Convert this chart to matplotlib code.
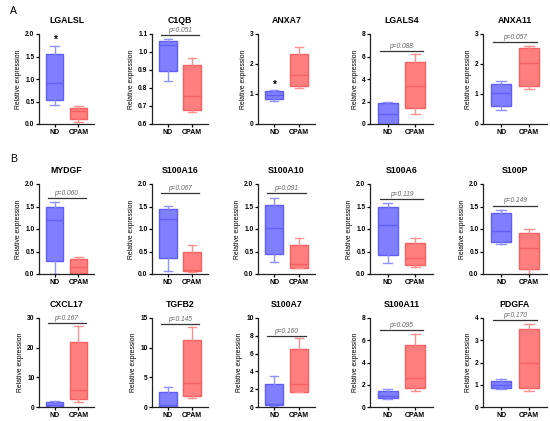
import numpy as np
import matplotlib.pyplot as plt

genes = ['LGALSL', 'C1QB', 'ANXA7', 'LGALS4', 'ANXA11',
         'MYDGF', 'S100A16', 'S100A10', 'S100A6', 'S100P',
         'CXCL17', 'TGFB2', 'S100A7', 'S100A11', 'PDGFA']
groups = ['ND', 'CPAM']

# whisker low, Q1, median, Q3, whisker high
nd = [[0.42, 0.53, 0.92, 1.56, 1.74],
      [0.84, 0.893, 1.037, 1.059, 1.074],
      [0.78, 0.85, 0.97, 1.10, 1.12],
      [0.0, 0.02, 0.93, 1.91, 1.97],
      [0.48, 0.60, 1.03, 1.32, 1.43],
      [0.0, 0.29, 1.19, 1.50, 1.60],
      [0.06, 0.35, 1.22, 1.45, 1.52],
      [0.27, 0.44, 1.03, 1.54, 1.68],
      [0.25, 0.42, 1.08, 1.49, 1.58],
      [0.67, 0.71, 0.95, 1.36, 1.43],
      [0.2, 0.4, 0.8, 1.6, 1.9],
      [0.0, 0.05, 0.3, 2.5, 3.4],
      [0.15, 0.2, 0.3, 2.6, 3.5],
      [0.72, 0.78, 0.96, 1.40, 1.64],
      [0.79, 0.84, 1.01, 1.18, 1.25]]
cpam = [[0.04, 0.12, 0.30, 0.36, 0.40],
        [0.669, 0.679, 0.753, 0.926, 0.967],
        [1.19, 1.28, 1.62, 2.34, 2.58],
        [0.87, 1.46, 3.34, 5.52, 6.2],
        [1.17, 1.27, 2.03, 2.55, 2.59],
        [0.01, 0.02, 0.15, 0.34, 0.37],
        [0.05, 0.06, 0.08, 0.50, 0.65],
        [0.13, 0.14, 0.22, 0.64, 0.79],
        [0.16, 0.19, 0.35, 0.70, 0.79],
        [0.0, 0.11, 0.57, 0.92, 0.99],
        [1.8, 2.6, 5.8, 22.0, 27.3],
        [1.5, 1.84, 3.97, 11.3, 13.4],
        [1.7, 1.72, 2.54, 6.57, 7.7],
        [1.43, 1.67, 2.57, 5.61, 6.57],
        [0.72, 0.84, 2.0, 3.49, 3.73]]

pvals = [None, 'p=0.051', None, 'p=0.088', 'p=0.057',
         'p=0.060', 'p=0.067', 'p=0.091', 'p=0.119', 'p=0.149',
         'p=0.167', 'p=0.145', 'p=0.160', 'p=0.095', 'p=0.170']
pline_y = [None, 1.095, None, 6.48, 2.72,
           1.68, 1.8, 1.8, 1.66, 1.52,
           28.3, 14.0, 7.95, 6.9, 3.9]
star_y = [1.86, None, 1.30, None, None] + [None] * 10

ylo = [0, 0.6, 0, 0, 0, 0, 0, 0, 0, 0, 0, 0, 0, 0, 0]
yhi = [2.0, 1.1, 3, 8, 3, 2.0, 2.0, 2.0, 2.0, 2.0, 30, 15, 10, 8, 4]
ystep = [0.5, 0.1, 1, 2, 1, 0.5, 0.5, 0.5, 0.5, 0.5, 10, 5, 2, 2, 1]

plt.rcParams['font.family'] = ['Liberation Sans', 'DejaVu Sans']
plt.rcParams['font.weight'] = 'bold'

W, H = 550, 421
lefts = [39, 152, 258, 370, 483]
widths = [55, 56, 57, 63, 64]
rows = [(34, 124), (184, 274), (318, 407)]

face = ['#7f7fff', '#ff7f7f']
edge = ['#5f5ff5', '#f56060']
whis = ['#9090ff', '#ff9090']

fig = plt.figure(figsize=(5.5, 4.21), dpi=100)

for i, g in enumerate(genes):
    r, c = divmod(i, 5)
    top, bot = rows[r]
    ax = fig.add_axes([lefts[c] / W, 1 - bot / H, widths[c] / W, (bot - top) / H])

    stats = []
    for s, lab in zip([nd[i], cpam[i]], groups):
        stats.append(dict(whislo=s[0], q1=s[1], med=s[2], q3=s[3], whishi=s[4],
                          fliers=[], label=lab))
    b = ax.bxp(stats, positions=[1, 2], widths=0.72, showfliers=False,
               patch_artist=True, capwidths=0.34)
    for k in range(2):
        b['boxes'][k].set(facecolor=face[k], edgecolor=edge[k], linewidth=1.0)
        b['medians'][k].set(color=edge[k], linewidth=1.0)
        for ln in b['whiskers'][2 * k:2 * k + 2] + b['caps'][2 * k:2 * k + 2]:
            ln.set(color=whis[k], linewidth=1.0)

    ax.set_xlim(0.35, 2.65)
    ax.set_ylim(ylo[i], yhi[i])
    ticks = np.arange(ylo[i], yhi[i] + ystep[i] / 2, ystep[i])
    ax.set_yticks(ticks)
    if ystep[i] < 1:
        ax.set_yticklabels(['%.1f' % t for t in ticks])
    else:
        ax.set_yticklabels(['%d' % t for t in ticks])
    ax.set_xticks([1, 2])
    ax.set_xticklabels(groups, fontsize=5)
    ax.tick_params(axis='y', labelsize=4.8, length=2, width=0.9, pad=1.2)
    ax.tick_params(axis='x', length=2, width=0.9, pad=1.5)
    for sp in ['top', 'right']:
        ax.spines[sp].set_visible(False)
    for sp in ['left', 'bottom']:
        ax.spines[sp].set_linewidth(0.9)
        ax.spines[sp].set_color('#222222')

    ax.set_ylabel('Relative expression', fontsize=4.9, labelpad=2)
    ax.set_title(g, fontsize=6.3, fontweight='bold', pad=8)

    if pvals[i] is not None:
        ax.plot([0.72, 2.3], [pline_y[i], pline_y[i]], color='#333333',
                lw=0.9, clip_on=False)
        ax.annotate(pvals[i], xy=(1.5, pline_y[i]), xytext=(0, 1),
                    textcoords='offset points', ha='center', va='bottom',
                    fontsize=4.8, style='italic', fontweight='normal',
                    color='#666666', annotation_clip=False)
    if star_y[i] is not None:
        ax.text(1, star_y[i], '*', ha='center', va='center', fontsize=7.5,
                color='black')

fig.text(10 / W, 1 - 11 / H, 'A', fontsize=7.5, fontweight='normal', va='center')
fig.text(10 / W, 1 - 159 / H, 'B', fontsize=7.5, fontweight='normal', va='center')

fig.savefig('out.png', dpi=100)
